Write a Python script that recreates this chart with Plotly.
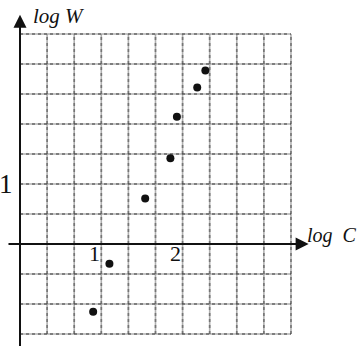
import plotly.graph_objects as go

# measured points (log C, log W)
log_c = [0.90, 1.10, 1.54, 1.85, 1.93, 2.18, 2.28]
log_w = [-1.13, -0.33, 0.76, 1.43, 2.12, 2.61, 2.89]

# grid: 10 cells across (1/3 unit each), 10 cells down (1/2 unit each)
grid_x = [i / 3 for i in range(11)]
grid_y = [-1.5 + j * 0.5 for j in range(11)]

x_ticks = [1, 2]
x_tick_text = ["1", "2"]
y_ticks = [1]
y_tick_text = ["1"]

SERIF = "Liberation Serif"

fig = go.Figure()

# grid lines
gx, gy = [], []
for x in grid_x:
    gx += [x, x, None]
    gy += [grid_y[0], grid_y[-1], None]
for y in grid_y:
    gx += [grid_x[0], grid_x[-1], None]
    gy += [y, y, None]
fig.add_trace(
    go.Scatter(
        x=gx, y=gy, mode="lines", line=dict(color="rgba(150,150,150,0.75)", width=1.6),
        hoverinfo="skip", showlegend=False,
    )
)
fig.add_trace(
    go.Scatter(
        x=gx, y=gy, mode="lines", line=dict(color="rgba(70,70,70,0.55)", width=1.8, dash="dot"),
        hoverinfo="skip", showlegend=False,
    )
)

# data points
fig.add_trace(
    go.Scatter(
        x=log_c, y=log_w, mode="markers",
        marker=dict(color="#111111", size=8),
        showlegend=False,
    )
)

annotations = [
    # y axis with arrow
    dict(x=0, y=3.82, ax=0, ay=-1.75, xref="x", yref="y", axref="x", ayref="y",
         showarrow=True, arrowhead=2, arrowsize=1.3, arrowwidth=2, arrowcolor="#111", text=""),
    # x axis with arrow
    dict(x=3.55, y=0, ax=-0.16, ay=0, xref="x", yref="y", axref="x", ayref="y",
         showarrow=True, arrowhead=2, arrowsize=1.3, arrowwidth=2, arrowcolor="#111", text=""),
    dict(x=0.14, y=3.80, xref="x", yref="y", text="<i>log W</i>", showarrow=False,
         xanchor="left", font=dict(family=SERIF, size=21, color="#111")),
    dict(x=3.51, y=0.15, xref="x", yref="y", text="<i>log\u00a0 C</i>", showarrow=False,
         xanchor="left", font=dict(family=SERIF, size=20, color="#111")),
]
for v, t in zip(x_ticks, x_tick_text):
    annotations.append(
        dict(x=v + 0.01, y=-0.15, xref="x", yref="y", text=t, showarrow=False,
             xanchor="right", yanchor="middle", font=dict(family=SERIF, size=22, color="#111"))
    )
for v, t in zip(y_ticks, y_tick_text):
    annotations.append(
        dict(x=-0.06, y=v, xref="x", yref="y", text=t, showarrow=False,
             xanchor="right", yanchor="middle", font=dict(family=SERIF, size=27, color="#111"))
    )

fig.update_layout(
    width=359,
    height=346,
    margin=dict(l=0, r=0, t=0, b=0),
    paper_bgcolor="white",
    plot_bgcolor="white",
    xaxis=dict(range=[-0.246, 4.170], visible=False, fixedrange=True),
    yaxis=dict(range=[-1.70, 4.067], visible=False, fixedrange=True),
    annotations=annotations,
)

fig.write_html(
    "out.html",
    config={"displayModeBar": False},
    post_script="document.body.style.margin='0';",
)
